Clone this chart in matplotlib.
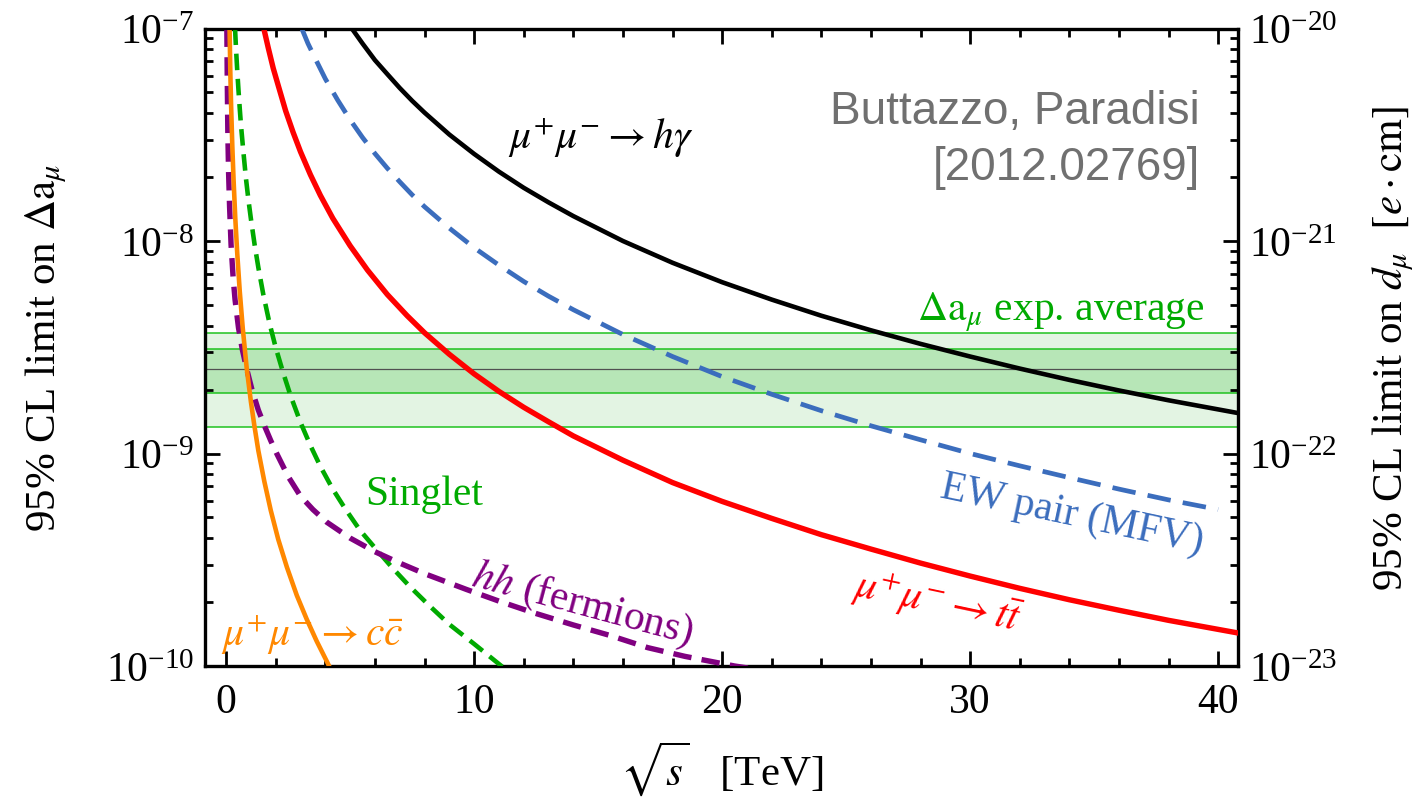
import matplotlib
matplotlib.use("Agg")
import matplotlib.pyplot as plt
from matplotlib.ticker import MultipleLocator, LogLocator

plt.rcParams['font.family'] = ['Liberation Serif', 'DejaVu Serif']
plt.rcParams['mathtext.fontset'] = 'stix'

# values (x = sqrt(s) in TeV, y = 95% CL limit on Delta a_mu)
hgamma_x = [5.07, 5.5, 6, 6.5, 7, 7.5, 8, 9, 10, 11, 12, 13, 14, 16, 18, 20, 22, 24, 26,
            28, 30, 32, 34, 36, 38, 40.8]
hgamma_y = [1.0e-7, 8.5e-8, 7.1e-8, 6.1e-8, 5.25e-8, 4.57e-8, 4.02e-8, 3.17e-8, 2.57e-8,
            2.12e-8, 1.78e-8, 1.52e-8, 1.31e-8, 1.0e-8, 7.9e-9, 6.4e-9, 5.3e-9, 4.45e-9,
            3.8e-9, 3.28e-9, 2.86e-9, 2.51e-9, 2.22e-9, 1.98e-9, 1.78e-9, 1.55e-9]

tt_x = [1.52, 1.7, 1.9, 2.1, 2.4, 2.7, 3, 3.4, 3.8, 4.3, 5, 5.7, 6.5, 7.3, 8, 9, 10, 11,
        12, 13, 14, 16, 18, 20, 22, 24, 26, 28, 30, 32, 34, 36, 38, 40.8]
tt_y = [1.0e-7, 8.1e-8, 6.5e-8, 5.4e-8, 4.1e-8, 3.25e-8, 2.63e-8, 2.05e-8, 1.64e-8,
        1.28e-8, 9.5e-9, 7.3e-9, 5.6e-9, 4.45e-9, 3.7e-9, 2.93e-9, 2.37e-9, 1.96e-9,
        1.65e-9, 1.41e-9, 1.21e-9, 9.3e-10, 7.3e-10, 5.95e-10, 4.95e-10, 4.15e-10,
        3.55e-10, 3.05e-10, 2.65e-10, 2.32e-10, 2.05e-10, 1.83e-10, 1.64e-10, 1.43e-10]

ew_x = [3.05, 3.3, 3.6, 4, 4.5, 5, 5.5, 6, 6.5, 7, 7.5, 8, 9, 10, 11, 12, 13, 14, 16, 18,
        20, 22, 24, 26, 28, 30, 32, 34, 36, 38, 40]
ew_y = [1.0e-7, 8.5e-8, 7.2e-8, 5.8e-8, 4.6e-8, 3.72e-8, 3.07e-8, 2.58e-8, 2.2e-8,
        1.9e-8, 1.65e-8, 1.45e-8, 1.15e-8, 9.3e-9, 7.7e-9, 6.45e-9, 5.5e-9, 4.75e-9,
        3.63e-9, 2.86e-9, 2.3e-9, 1.9e-9, 1.59e-9, 1.35e-9, 1.16e-9, 1.0e-9, 8.75e-10,
        7.7e-10, 6.8e-10, 6.05e-10, 5.45e-10]

singlet_x = [0.36, 0.4, 0.45, 0.5, 0.55, 0.6, 0.7, 0.8, 0.9, 1.0, 1.15, 1.3, 1.5, 1.75,
             2.0, 2.3, 2.6, 3.0, 3.4, 3.8, 4.3, 4.8, 5.4, 6.0, 6.7, 7.4, 8.2, 9.0, 10.0,
             11.1, 11.6]
singlet_y = [1.0e-7, 8.0e-8, 6.3e-8, 5.1e-8, 4.2e-8, 3.5e-8, 2.6e-8, 1.97e-8, 1.56e-8,
             1.27e-8, 9.6e-9, 7.5e-9, 5.6e-9, 4.1e-9, 3.15e-9, 2.4e-9, 1.87e-9, 1.4e-9,
             1.09e-9, 8.7e-10, 6.8e-10, 5.5e-10, 4.35e-10, 3.6e-10, 2.9e-10, 2.37e-10,
             1.92e-10, 1.57e-10, 1.27e-10, 1.0e-10, 9.2e-11]

hh_x = [0.03, 0.045, 0.07, 0.1, 0.14, 0.2, 0.28, 0.36, 0.5, 0.65, 0.83, 1.05, 1.3, 1.57,
        1.8, 2.04, 2.5, 3.0, 3.5, 4.06, 5.0, 6.0, 7.0, 8.0, 9.7, 11.0, 12.4, 14.0, 15.5,
        17.0, 18.5, 20.5, 22.0]
hh_y = [1.0e-7, 6.0e-8, 3.2e-8, 2.1e-8, 1.45e-8, 9.6e-9, 6.8e-9, 5.3e-9, 3.9e-9, 3.1e-9,
        2.5e-9, 1.98e-9, 1.6e-9, 1.33e-9, 1.15e-9, 1.0e-9, 7.8e-10, 6.3e-10, 5.45e-10,
        4.75e-10, 4.0e-10, 3.45e-10, 3.05e-10, 2.72e-10, 2.29e-10, 2.02e-10, 1.78e-10,
        1.56e-10, 1.39e-10, 1.22e-10, 1.11e-10, 1.0e-10, 9.4e-11]

cc_x = [0.14, 0.17, 0.2, 0.25, 0.3, 0.37, 0.45, 0.55, 0.67, 0.83, 1.0, 1.14, 1.3, 1.54,
        1.8, 2.1, 2.45, 2.85, 3.25, 3.65, 4.08, 4.3]
cc_y = [1.0e-7, 6.2e-8, 4.4e-8, 2.8e-8, 1.95e-8, 1.28e-8, 8.7e-9, 5.8e-9, 3.9e-9, 2.52e-9,
        1.75e-9, 1.35e-9, 1.03e-9, 7.4e-10, 5.4e-10, 3.95e-10, 2.92e-10, 2.15e-10,
        1.66e-10, 1.31e-10, 1.04e-10, 9.2e-11]

# experimental average of Delta a_mu: central value, 1 sigma and 2 sigma bands
damu_central = 2.51e-9
damu_1sigma = [1.92e-9, 3.10e-9]
damu_2sigma = [1.33e-9, 3.69e-9]

fig = plt.figure(figsize=(14.15, 8.04), dpi=100)
ax = fig.add_axes([0.1449, 0.1704, 0.7300, 0.7929])

ax.axhspan(damu_2sigma[0], damu_2sigma[1], color='#e3f4e3', lw=0, zorder=1)
ax.axhspan(damu_1sigma[0], damu_1sigma[1], color='#b7e6b7', lw=0, zorder=1)
for v in damu_2sigma + damu_1sigma:
    ax.axhline(v, color='#1fc21f', lw=1.1, zorder=2)
ax.axhline(damu_central, color='#505050', lw=0.9, zorder=2)

ax.plot(hgamma_x, hgamma_y, color='black', lw=3.3, zorder=5)
ax.plot(tt_x, tt_y, color='#ff0000', lw=3.9, zorder=5)
ax.plot(ew_x, ew_y, color='#3b6dbd', lw=3.4, dashes=(5.0, 2.6), zorder=5)
ax.plot(singlet_x, singlet_y, color='#00aa00', lw=3.3, dashes=(3.6, 1.9), zorder=5)
ax.plot(hh_x, hh_y, color='#800080', lw=3.9, dashes=(3.4, 1.9), zorder=5)
ax.plot(cc_x, cc_y, color='#ff8800', lw=3.3, zorder=5)

ax.set_yscale('log')
ax.set_xlim(-0.85, 40.8)
ax.set_ylim(1e-10, 1e-7)
ax.xaxis.set_major_locator(MultipleLocator(10))
ax.xaxis.set_minor_locator(MultipleLocator(2))
ax.tick_params(which='both', direction='in', top=True, right=False, width=2,
               labelsize=30, colors='black')
ax.tick_params(which='major', length=11)
ax.tick_params(which='minor', length=6)
ax.tick_params(axis='x', pad=12)
ax.tick_params(axis='y', pad=8)
for s in ax.spines.values():
    s.set_linewidth(2.4)

ax2 = ax.twinx()
ax2.set_yscale('log')
ax2.set_ylim(1e-23, 1e-20)
ax2.yaxis.set_minor_locator(LogLocator(subs=range(2, 10)))
ax2.tick_params(which='both', direction='in', width=2, labelsize=30, pad=8)
ax2.tick_params(which='major', length=11)
ax2.tick_params(which='minor', length=6)

ax.set_xlabel(r'$\sqrt{s}$   [TeV]', fontsize=31)
ax.xaxis.set_label_coords(0.5, -0.113)
ax.set_ylabel(r'95% CL limit on $\Delta\mathrm{a}_\mu$', fontsize=31)
ax.yaxis.set_label_coords(-0.132, 0.5)
ax2.set_ylabel(r'95% CL limit on $d_\mu$  $[e\cdot\mathrm{cm}]$', fontsize=31)
ax2.yaxis.set_label_coords(1.128, 0.5)

ax.text(15.1, 10**-7.56, r'$\mu^{+}\mu^{-}\rightarrow h\gamma$', fontsize=30,
        ha='center', va='baseline', color='black')
ax.text(39.26, 10**-7.445, 'Buttazzo, Paradisi', fontsize=33, ha='right',
        va='baseline', color='#707070', family='Liberation Sans')
ax.text(39.26, 10**-7.708, '[2012.02769]', fontsize=33, ha='right',
        va='baseline', color='#707070', family='Liberation Sans')
ax.text(39.45, 10**-8.367, r'$\Delta\mathrm{a}_\mu$ exp. average', fontsize=30,
        ha='right', va='baseline', color='#00aa00')
ax.text(5.6, 10**-9.238, 'Singlet', fontsize=30, ha='left', va='baseline',
        color='#00aa00')
ax.text(34.1, 10**-9.285, 'EW pair (MFV)', fontsize=30, ha='center', va='center',
        rotation=-12, rotation_mode='anchor', color='#3b6dbd')
ax.text(28.7, 10**-9.70, r'$\mu^{+}\mu^{-}\rightarrow t\bar{t}$', fontsize=30,
        ha='center', va='center', rotation=-12, rotation_mode='anchor', color='#ff0000')
ax.text(14.35, 10**-9.71, r'$hh$ (fermions)', fontsize=30, ha='center', va='center',
        rotation=-15, rotation_mode='anchor', color='#800080')
ax.text(3.47, 10**-9.85, r'$\mu^{+}\mu^{-}\rightarrow c\bar{c}$', fontsize=30,
        ha='center', va='center', color='#ff8800')

fig.savefig('out.png', dpi=100)
